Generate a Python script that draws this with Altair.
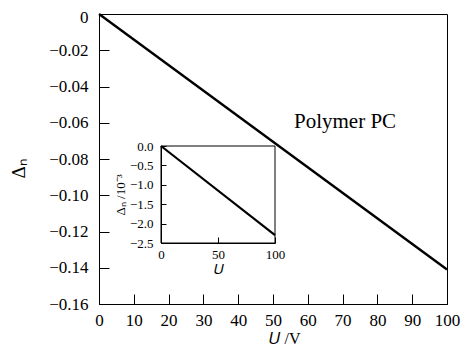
import altair as alt
import pandas as pd

# ---- data ----
U_main = [0, 100]
dn_main = [0.0, -0.141]
U_inset = [0, 100]
dn_inset = [0.0, -2.3]

main_x_ticks = [0, 10, 20, 30, 40, 50, 60, 70, 80, 90, 100]
main_y_ticks = [0.0, -0.02, -0.04, -0.06, -0.08, -0.10, -0.12, -0.14, -0.16]
inset_x_ticks = [0, 50, 100]
inset_y_ticks = [0.0, -0.5, -1.0, -1.5, -2.0, -2.5]

label_text = ["Polymer PC"]
label_x = [70.7]
label_y = [-0.0595]

FONT = "Liberation Serif"
W, H = 348, 290
INX = [62, 176]
INY = [229, 132]

main_df = pd.DataFrame({"U": U_main, "dn": dn_main})
inset_df = pd.DataFrame({"U": U_inset, "dn": dn_inset})
box_df = pd.DataFrame({"x0": [inset_x_ticks[0]], "x1": [inset_x_ticks[-1]],
                       "y0": [inset_y_ticks[-1]], "y1": [inset_y_ticks[0]]})
text_df = pd.DataFrame({"t": label_text, "x": label_x, "y": label_y})


def xs_main():
    return alt.Scale(domain=[0, 100], nice=False, zero=False)


def ys_main():
    return alt.Scale(domain=[-0.16, 0], nice=False, zero=False)


def xs_in():
    return alt.Scale(domain=[0, 100], range=INX, nice=False, zero=False)


def ys_in():
    return alt.Scale(domain=[-2.5, 0], range=INY, nice=False, zero=False)


common = dict(grid=False, labelFont=FONT, titleFont=FONT, labelColor="black",
              titleColor="black", titleFontWeight="normal", domainColor="black",
              labelOverlap=False, labelFlush=False)

# main line with labelled axes
main_line = alt.Chart(main_df).mark_line(color="black", strokeWidth=2.4).encode(
    x=alt.X("U:Q", scale=xs_main(), axis=alt.Axis(
        orient="bottom", values=main_x_ticks, ticks=False, tickSize=0,
        labelPadding=8, labelFontSize=17, title="𝑈 /V", titleFontSize=16,
        titleX=185, titleY=26, titleBaseline="top", **common)),
    y=alt.Y("dn:Q", scale=ys_main(), axis=alt.Axis(
        orient="left", values=main_y_ticks, ticks=False, tickSize=0,
        labelPadding=11, labelFontSize=17,
        labelOffset={"condition": {"test": "datum.value == 0", "value": 3}, "value": 0},
        labelExpr="datum.value == 0 ? '0' : format(datum.value, '.2f')",
        title="Δₙ", titleFontSize=19, titlePadding=20, titleY=154, **common)),
)

# inward ticks of the main axes
main_ticks = alt.Chart(main_df).mark_line(strokeOpacity=0).encode(
    x=alt.X("U:Q", scale=xs_main(), axis=alt.Axis(
        orient="top", offset=-H, values=main_x_ticks, ticks=True, tickSize=10,
        tickColor="black", labels=False, domain=False, grid=False, title=None)),
    y=alt.Y("dn:Q", scale=ys_main(), axis=alt.Axis(
        orient="right", offset=-W, values=main_y_ticks, ticks=True, tickSize=10,
        tickColor="black", labels=False, domain=False, grid=False, title=None)),
)

text_layer = alt.Chart(text_df).mark_text(
    font=FONT, fontSize=21, color="black", align="center", baseline="middle"
).encode(
    x=alt.X("x:Q", scale=xs_main(), axis=None),
    y=alt.Y("y:Q", scale=ys_main(), axis=None),
    text="t:N",
)

# inset
inset_line = alt.Chart(inset_df).mark_line(color="black", strokeWidth=2.2).encode(
    x=alt.X("U:Q", scale=xs_in(), axis=alt.Axis(
        orient="bottom", offset=-(H - INY[0]), values=inset_x_ticks, ticks=False,
        tickSize=0, labelPadding=5, labelFontSize=13, title="𝑈",
        titleFontSize=14, titlePadding=1, **common)),
    y=alt.Y("dn:Q", scale=ys_in(), axis=alt.Axis(
        orient="left", offset=-INX[0], values=inset_y_ticks, ticks=False,
        tickSize=0, labelPadding=8, labelFontSize=13, format=".1f",
        title="Δₙ /10⁻³", titleFontSize=13, titlePadding=2, **common)),
)

inset_ticks = alt.Chart(inset_df).mark_line(strokeOpacity=0).encode(
    x=alt.X("U:Q", scale=xs_in(), axis=alt.Axis(
        orient="top", offset=-INY[0], values=inset_x_ticks, ticks=True, tickSize=6,
        tickColor="black", labels=False, domain=False, grid=False, title=None)),
    y=alt.Y("dn:Q", scale=ys_in(), axis=alt.Axis(
        orient="right", offset=-(W - INX[0]), values=inset_y_ticks, ticks=True,
        tickSize=5, tickColor="black", labels=False, domain=False, grid=False,
        title=None)),
)

inset_box = alt.Chart(box_df).mark_rect(
    fill="transparent", stroke="black", strokeWidth=1
).encode(
    x=alt.X("x0:Q", scale=xs_in(), axis=None),
    x2="x1:Q",
    y=alt.Y("y0:Q", scale=ys_in(), axis=None),
    y2="y1:Q",
)

chart = alt.layer(
    main_line, main_ticks, text_layer, inset_box, inset_line, inset_ticks
).resolve_scale(
    x="independent", y="independent"
).resolve_axis(
    x="independent", y="independent"
).properties(
    width=W, height=H,
    autosize=alt.AutoSizeParams(type="none"),
    padding={"left": 91, "top": 6, "right": 20, "bottom": 42},
    background="white",
).configure_view(stroke="black", strokeWidth=1)

chart.save("out.html", embed_options={"renderer": "svg", "actions": False})
